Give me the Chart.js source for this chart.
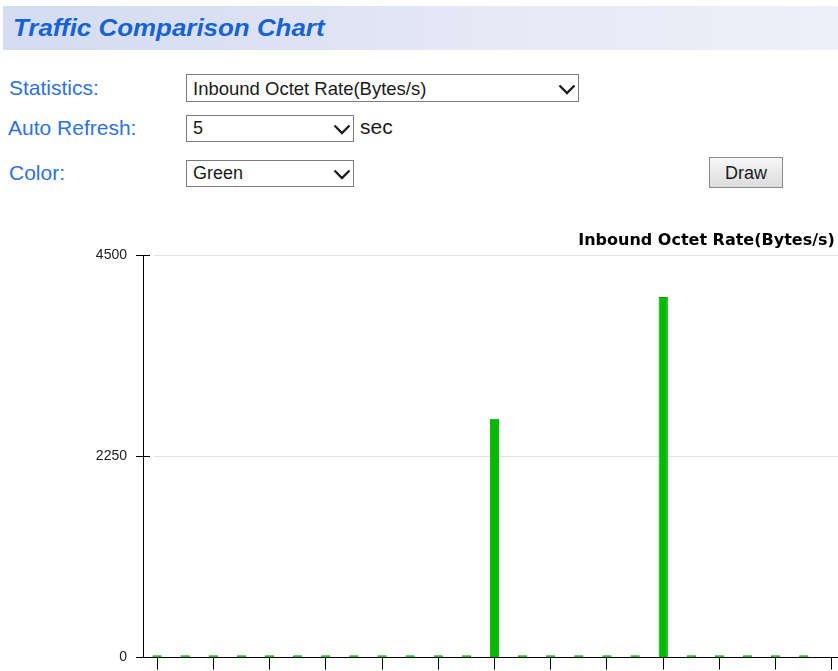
<!DOCTYPE html>
<html>
<head>
<meta charset="utf-8">
<script src="https://cdn.jsdelivr.net/npm/chart.js@4/dist/chart.umd.min.js"></script>
<style>
  html, body { margin: 0; padding: 0; width: 838px; height: 671px; overflow: hidden; background: #fff; }
  body { position: relative; font-family: "Liberation Sans", Arial, sans-serif; }
  .abs { position: absolute; white-space: nowrap; }
  #hdr { left: 3px; top: 6px; width: 835px; height: 44px;
         background: linear-gradient(to right, #d3dcf1 0%, #dde2f4 35%, #e8e9f7 60%, #eeeff9 100%); }
  #hdrText { left: 13px; top: 14px; font-size: 24px; font-weight: bold; font-style: italic; color: #1763d4;
             transform: scaleX(1.08); transform-origin: left center; }
  .lbl { font-size: 21px; color: #3072dc; }
  .sel { border: 1px solid #7c7c7c; background: #fff; box-sizing: border-box; }
  .selText { position: absolute; left: 6px; font-size: 18px; color: #1a1a1a; }
  .chev { position: absolute; }
  #btn { left: 709px; top: 157px; width: 74px; height: 31px; box-sizing: border-box; border: 1px solid #8a8a8a;
         background: linear-gradient(#f7f7f7, #dcdcdc); font-size: 18px; color: #1a1a1a; text-align: center; line-height: 30px; }
  #sec { left: 360px; top: 115px; font-size: 21px; color: #1a1a1a; }
  #chartBox { position: absolute; left: 0; top: 220px; width: 846px; height: 455px; }
</style>
</head>
<body>
<div id="hdr" class="abs"></div>
<div id="hdrText" class="abs">Traffic Comparison Chart</div>

<div class="abs lbl" style="left:9px; top:76px;">Statistics:</div>
<div class="abs lbl" style="left:8px; top:116px;">Auto Refresh:</div>
<div class="abs lbl" style="left:9px; top:161px;">Color:</div>

<div class="abs sel" style="left:186px; top:74px; width:393px; height:28px;">
  <span class="selText" style="top:3px; font-size:18.5px;">Inbound Octet Rate(Bytes/s)</span>
  <svg class="chev" style="left:371px; top:9px;" width="18" height="11"><polyline points="1.5,1.5 9,9 16.5,1.5" fill="none" stroke="#1a1a1a" stroke-width="2.3"/></svg>
</div>
<div class="abs sel" style="left:186px; top:115px; width:168px; height:27px;">
  <span class="selText" style="top:2px;">5</span>
  <svg class="chev" style="left:146px; top:8px;" width="18" height="11"><polyline points="1.5,1.5 9,9 16.5,1.5" fill="none" stroke="#1a1a1a" stroke-width="2.3"/></svg>
</div>
<div id="sec" class="abs">sec</div>
<div class="abs sel" style="left:186px; top:160px; width:168px; height:27px;">
  <span class="selText" style="top:2px;">Green</span>
  <svg class="chev" style="left:146px; top:8px;" width="18" height="11"><polyline points="1.5,1.5 9,9 16.5,1.5" fill="none" stroke="#1a1a1a" stroke-width="2.3"/></svg>
</div>
<div id="btn" class="abs">Draw</div>

<div id="chartBox"><canvas id="c" width="846" height="455"></canvas></div>

<script>
// ---- data ----
const sampleLabels = ['1','2','3','4','5','6','7','8','9','10','11','12','13','14','15','16','17','18','19','20','21','22','23','24','25'];
const inboundOctetRate = [25,25,25,25,25,25,25,25,25,25,25,25,2670,25,25,25,25,25,4030,25,25,25,25,25,null];
const yTickValues = [0, 2250, 4500];
const chartTitle = 'Inbound Octet Rate(Bytes/s)';

const gridGray = '#e2e2e2';
function yGridColor(ctx) {
  const chart = ctx.chart;
  const a = chart.chartArea;
  if (!a || (ctx.tick && ctx.tick.value === 0)) return '#000';
  const w = a.right - a.left;
  const g = chart.ctx.createLinearGradient(a.left, 0, a.right, 0);
  g.addColorStop(0, '#000');
  g.addColorStop(7 / w, '#000');
  g.addColorStop(7.01 / w, '#fff');
  g.addColorStop(11 / w, '#fff');
  g.addColorStop(11.01 / w, gridGray);
  g.addColorStop(1, gridGray);
  return g;
}

new Chart(document.getElementById('c'), {
  type: 'bar',
  data: {
    labels: sampleLabels,
    datasets: [{
      label: chartTitle,
      data: inboundOctetRate,
      backgroundColor: '#00bb00',
      borderColor: '#00a000',
      borderWidth: 1,
      barPercentage: 0.33,
      categoryPercentage: 1
    }]
  },
  options: {
    responsive: false,
    animation: false,
    devicePixelRatio: 1,
    layout: { padding: 0 },
    plugins: {
      legend: { display: false },
      tooltip: { enabled: false },
      title: {
        display: true,
        text: chartTitle + '  ',
        align: 'end',
        color: '#000',
        font: { family: 'DejaVu Sans', size: 16, weight: 'bold' },
        padding: { top: 11, bottom: 4.8 }
      }
    },
    scales: {
      x: {
        type: 'category',
        offset: true,
        grid: {
          display: true,
          offset: false,
          drawOnChartArea: false,
          drawTicks: true,
          tickLength: 12,
          tickColor: (ctx) => (ctx.index % 2 ? 'rgba(0,0,0,0)' : '#000')
        },
        border: { display: true, color: '#000', width: 1 },
        ticks: { display: false, autoSkip: false }
      },
      y: {
        min: 0,
        max: 4500,
        afterBuildTicks: (s) => { s.ticks = yTickValues.map(v => ({ value: v })); },
        afterFit: (s) => { s.width = 143; },
        grid: { color: yGridColor, tickLength: 7, tickColor: '#000', lineWidth: 1 },
        border: { display: true, color: '#000', width: 1 },
        ticks: {
          padding: 9,
          color: '#222',
          font: { family: 'Liberation Sans', size: 14 },
          callback: (v) => String(v)
        }
      }
    }
  }
});
</script>
</body>
</html>
